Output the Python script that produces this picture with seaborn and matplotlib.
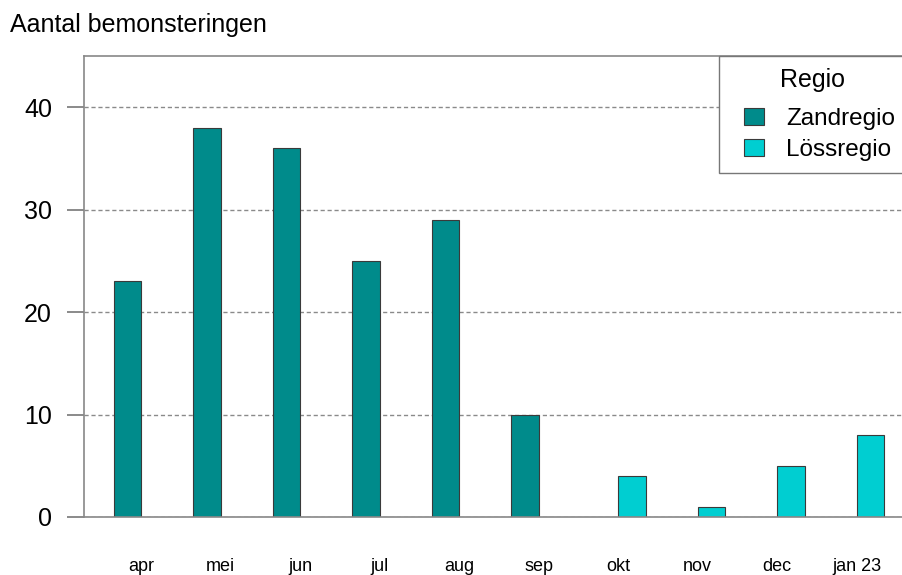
import seaborn as sns
import matplotlib.pyplot as plt
import pandas as pd
from matplotlib.patches import Rectangle
from matplotlib.legend_handler import HandlerPatch

maanden = ['apr', 'mei', 'jun', 'jul', 'aug', 'sep', 'okt', 'nov', 'dec', 'jan 23']
zand_maanden = ['apr', 'mei', 'jun', 'jul', 'aug', 'sep']
zand_aantal = [23, 38, 36, 25, 29, 10]
loss_maanden = ['okt', 'nov', 'dec', 'jan 23']
loss_aantal = [4, 1, 5, 8]
regios = ['Zandregio', 'Lössregio']
kleuren = ['#008b8b', '#00ced1']

df = pd.concat([
    pd.DataFrame({'maand': zand_maanden, 'aantal': zand_aantal, 'regio': 'Zandregio'}),
    pd.DataFrame({'maand': loss_maanden, 'aantal': loss_aantal, 'regio': 'Lössregio'}),
])

sns.set_style('white')
plt.rcParams['font.family'] = ['Liberation Sans', 'DejaVu Sans']
plt.rcParams['text.color'] = 'black'


def key_box(legend, orig_handle, xdescent, ydescent, width, height, fontsize):
    # small square at the right side of the key area, centred vertically
    w = 0.82 * fontsize
    h = 0.7 * fontsize
    return Rectangle((-xdescent + width - w, -ydescent + (height - h) / 2), w, h)


fig = plt.figure(figsize=(9.03, 5.75), dpi=100)
ax = fig.add_axes([84 / 903, 1 - 517 / 575, 830 / 903, 461 / 575])

sns.barplot(data=df, x='maand', y='aantal', hue='regio', order=maanden,
            hue_order=regios, palette=kleuren, saturation=1, width=0.69,
            dodge=True, edgecolor='#3a3a3a', linewidth=0.8, ax=ax)

ax.set_xlim(-0.72, 9.72)
ax.set_ylim(0, 45)
ax.set_yticks([0, 10, 20, 30, 40])
ax.set_xlabel('')
ax.set_ylabel('')
ax.set_axisbelow(True)
ax.yaxis.grid(True, color='#8a8a8a', linestyle=(0, (3, 2)), linewidth=1)

for s in ax.spines.values():
    s.set_color('#888888')
    s.set_linewidth(1.2)
ax.tick_params(axis='y', left=True, length=12, width=1.2, color='#777777',
               labelsize=18, pad=11, labelcolor='black')
ax.tick_params(axis='x', bottom=False, labelsize=13, pad=26, labelcolor='black')

leg = ax.legend(title='Regio', loc='upper right', bbox_to_anchor=(1 - 7 / 830, 1),
                borderaxespad=0, fontsize=17.5, title_fontsize=18,
                frameon=True, fancybox=False, framealpha=1,
                edgecolor='#777777', handlelength=1.36, handleheight=1.0,
                handletextpad=0.9, labelspacing=0.28, borderpad=0.5,
                handler_map={Rectangle: HandlerPatch(patch_func=key_box)})
leg.get_frame().set_linewidth(1)
# extra room between the title and the entries
leg._legend_box.sep = 10

fig.text(10 / 903, 1 - 13 / 575, 'Aantal bemonsteringen', fontsize=18,
         ha='left', va='top')

fig.savefig('out.png', dpi=100)
